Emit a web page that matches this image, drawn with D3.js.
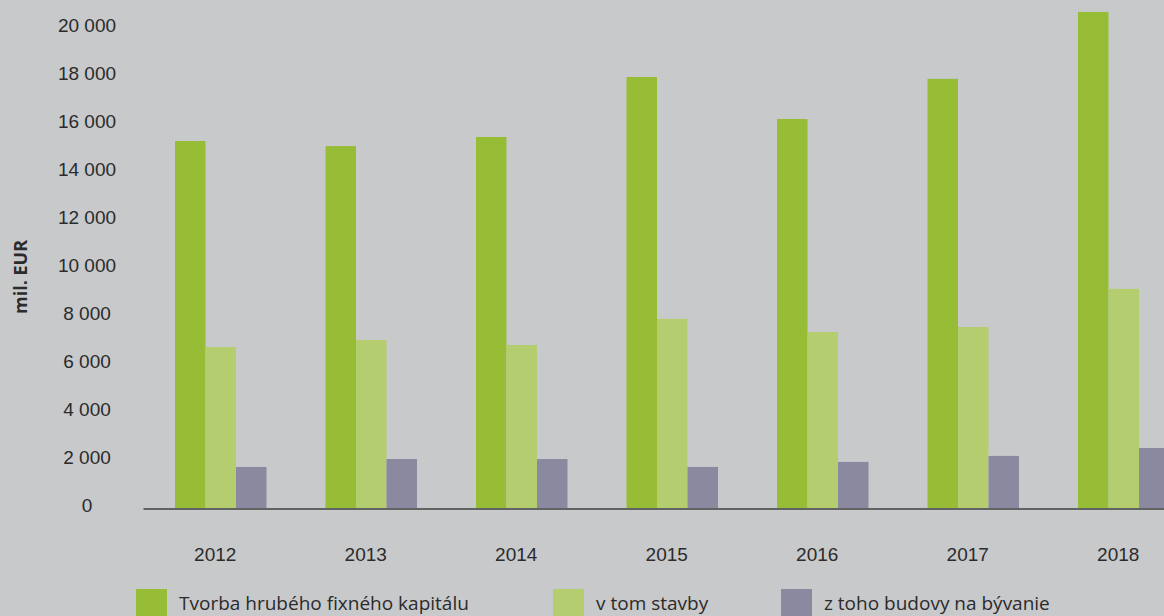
<!DOCTYPE html>
<html>
<head>
<meta charset="utf-8">
<script src="https://cdn.jsdelivr.net/npm/d3@7"></script>
<style>
    html, body { margin: 0; padding: 0; background: #c8c9cb; }
    svg { display: block; font-family: "Open Sans", "Noto Sans", sans-serif; }
</style>
</head>
<body>
<svg id="chart"></svg>
<script>
// [A] Datos ----------------------------------------------------------------
const years = ["2012", "2013", "2014", "2015", "2016", "2017", "2018"];
const seriesNames = ["Tvorba hrubého fixného kapitálu", "v tom stavby", "z toho budovy na bývanie"];
const tvorba = [15290, 15080, 15460, 17960, 16210, 17880, 20670];
const stavby = [6710, 7000, 6790, 7880, 7330, 7540, 9130];
const budovy = [1710, 2040, 2040, 1710, 1920, 2170, 2500];
const yTicks = [0, 2000, 4000, 6000, 8000, 10000, 12000, 14000, 16000, 18000, 20000];
const colors = ["#97bc35", "#b4cd6e", "#8b89a0"];

// [B] Configuracion --------------------------------------------------------
const width = 1164;
const height = 616;
const step = 150.5; // ancho de cada grupo de años
const x0Start = 143;
const y0 = 508;

const svg = d3.select("#chart")
    .attr("width", width)
    .attr("height", height);

// [B.1] Escalas
const x0 = d3.scaleBand()
    .domain(years)
    .range([x0Start, x0Start + step * years.length]);

const x1 = d3.scaleBand()
    .domain(d3.range(seriesNames.length))
    .range([32, 32 + 91.5]);

const y = d3.scaleLinear()
    .domain([0, 20000])
    .range([y0, y0 - 480]);

const fmt = d3.formatLocale({ decimal: ",", thousands: " ", grouping: [3], currency: ["", " €"] }).format(",d");

// [C] Barras ---------------------------------------------------------------
const rows = years.map((yr, i) => ({ year: yr, values: [tvorba[i], stavby[i], budovy[i]] }));

svg.append("g")
    .selectAll("g")
    .data(rows)
    .join("g")
    .attr("transform", d => `translate(${x0(d.year)},0)`)
    .selectAll("rect")
    .data(d => d.values.map((v, k) => ({ k, v })))
    .join("rect")
    .attr("x", d => x1(d.k))
    .attr("y", d => y(d.v))
    .attr("width", x1.bandwidth())
    .attr("height", d => y(0) - y(d.v))
    .attr("fill", d => colors[d.k]);

// [D] Ejes -----------------------------------------------------------------
const yAxis = svg.append("g")
    .attr("transform", "translate(87,0)")
    .call(d3.axisLeft(y).tickValues(yTicks).tickFormat(fmt).tickSize(0).tickPadding(0));
yAxis.select(".domain").remove();
yAxis.selectAll("text")
    .attr("text-anchor", "middle")
    .attr("dy", "0.2em")
    .attr("font-size", "19px")
    .attr("fill", "#2b2b2b");

const xAxis = svg.append("g")
    .attr("transform", `translate(0,${y0 + 0.5})`)
    .call(d3.axisBottom(x0).tickSize(0).tickSizeOuter(0).tickPadding(39));
xAxis.select(".domain")
    .attr("stroke", "#404040")
    .attr("stroke-width", 1.5);
xAxis.selectAll("text")
    .attr("x", -3)
    .attr("font-size", "19px")
    .attr("fill", "#2b2b2b");

// [D.1] Titulo del eje Y
svg.append("text")
    .attr("transform", "translate(27,277) rotate(-90)")
    .attr("text-anchor", "middle")
    .attr("font-size", "18px")
    .attr("font-weight", "bold")
    .attr("fill", "#2b2b2b")
    .text("mil. EUR");

// [E] Leyenda --------------------------------------------------------------
const legendX = [136, 553, 781];
const legend = svg.append("g")
    .selectAll("g")
    .data(seriesNames)
    .join("g")
    .attr("transform", (d, i) => `translate(${legendX[i]},589)`);

legend.append("rect")
    .attr("width", 31)
    .attr("height", 31)
    .attr("fill", (d, i) => colors[i]);

legend.append("text")
    .attr("x", 43)
    .attr("y", 21)
    .attr("font-size", "19px")
    .attr("fill", "#2b2b2b")
    .text(d => d);
</script>
</body>
</html>
